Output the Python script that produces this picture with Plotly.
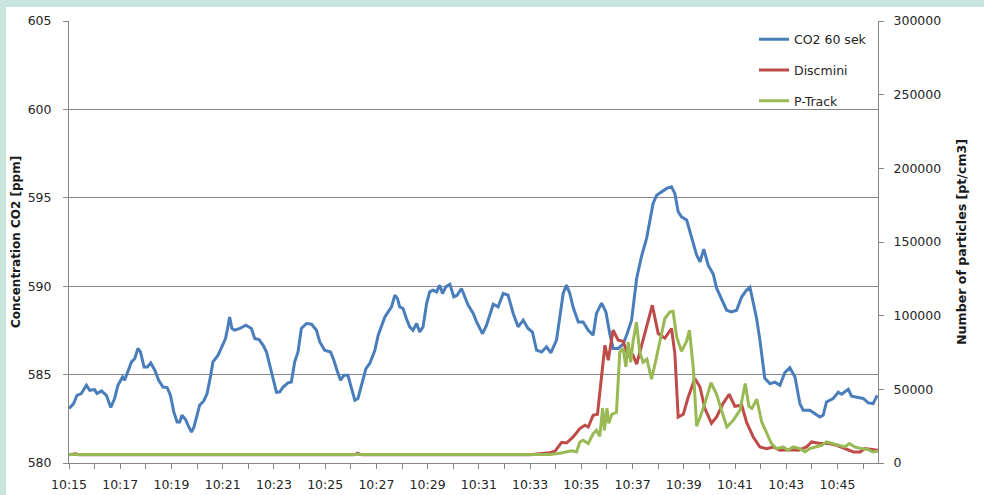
import pandas as pd
import plotly.graph_objects as go

# ---- data (minutes after 10:15:00) ----
co2_min = [0.00, 0.18, 0.31, 0.48, 0.68, 0.81, 1.00, 1.09, 1.27, 1.46, 1.63, 1.78, 1.91, 2.09, 2.17,
           2.30, 2.44, 2.57, 2.69, 2.79, 2.93, 3.06, 3.19, 3.35, 3.50, 3.67, 3.83, 3.96, 4.09, 4.22,
           4.32, 4.41, 4.55, 4.65, 4.78, 4.88, 5.00, 5.10, 5.26, 5.39, 5.52, 5.62, 5.82, 5.95, 6.11,
           6.19, 6.27, 6.36, 6.47, 6.67, 6.90, 7.12, 7.25, 7.42, 7.58, 7.71, 7.84, 7.97, 8.10, 8.23,
           8.36, 8.55, 8.68, 8.81, 8.94, 9.07, 9.27, 9.47, 9.66, 9.79, 9.98, 10.21, 10.34, 10.46, 10.60,
           10.73, 10.89, 11.03, 11.16, 11.28, 11.42, 11.59, 11.74, 11.94, 12.07, 12.20, 12.33, 12.46, 12.59, 12.72,
           12.82, 12.91, 13.04, 13.17, 13.30, 13.43, 13.57, 13.69, 13.82, 13.96, 14.08, 14.21, 14.35, 14.47, 14.58,
           14.71, 14.87, 15.02, 15.15, 15.32, 15.45, 15.58, 15.78, 15.91, 16.14, 16.30, 16.56, 16.75, 16.95, 17.14,
           17.34, 17.53, 17.73, 17.92, 18.09, 18.25, 18.45, 18.64, 18.81, 19.03, 19.16, 19.29, 19.42, 19.55, 19.68,
           19.88, 20.07, 20.27, 20.46, 20.59, 20.79, 20.96, 21.11, 21.24, 21.44, 21.63, 21.79, 21.96, 22.16, 22.35,
           22.55, 22.67, 22.80, 22.94, 23.13, 23.33, 23.52, 23.65, 23.78, 23.91, 24.11, 24.30, 24.50, 24.63, 24.78,
           24.95, 25.15, 25.28, 25.47, 25.67, 25.86, 26.06, 26.26, 26.45, 26.58, 26.71, 26.84, 26.97, 27.16, 27.36,
           27.56, 27.75, 27.95, 28.14, 28.34, 28.53, 28.66, 28.92, 29.12, 29.31, 29.44, 29.57, 29.83, 30.03, 30.16,
           30.42, 30.55, 30.81, 31.00, 31.20, 31.39, 31.55]
co2_ppm = [583.08, 583.36, 583.83, 583.93, 584.40, 584.11, 584.15, 583.93, 584.08, 583.83, 583.14, 583.65, 584.40, 584.87, 584.68,
           585.15, 585.72, 585.91, 586.48, 586.28, 585.43, 585.43, 585.66, 585.25, 584.68, 584.30, 584.27, 583.83, 582.89, 582.32,
           582.32, 582.70, 582.46, 582.13, 581.75, 582.04, 582.80, 583.27, 583.51, 583.93, 584.87, 585.72, 586.10, 586.57, 587.04,
           587.61, 588.26, 587.61, 587.51, 587.61, 587.79, 587.61, 587.04, 586.98, 586.66, 586.28, 585.53, 584.79, 584.00, 584.02,
           584.30, 584.53, 584.58, 585.72, 586.28, 587.61, 587.89, 587.85, 587.51, 586.85, 586.38, 586.28, 585.81, 585.25, 584.68,
           584.96, 584.96, 584.21, 583.55, 583.65, 584.40, 585.34, 585.63, 586.38, 587.23, 587.70, 588.26, 588.55, 588.83, 589.49,
           589.31, 588.83, 588.74, 588.17, 587.70, 587.51, 587.89, 587.41, 587.70, 589.02, 589.68, 589.78, 589.68, 590.06, 589.59,
           589.96, 590.11, 589.40, 589.49, 589.87, 589.40, 588.93, 588.46, 587.98, 587.32, 587.79, 588.98, 588.83, 589.59, 589.49,
           588.46, 587.70, 588.08, 587.61, 587.41, 586.38, 586.28, 586.57, 586.23, 586.95, 588.26, 589.59, 590.06, 589.59, 588.81,
           587.98, 587.98, 587.51, 587.23, 588.46, 589.04, 588.53, 587.32, 586.48, 586.48, 586.72, 587.32, 588.08, 590.45, 591.70,
           592.72, 593.74, 594.68, 595.15, 595.34, 595.53, 595.62, 595.25, 594.21, 593.92, 593.74, 592.79, 591.76, 591.38, 592.10,
           591.19, 590.68, 589.89, 589.32, 588.64, 588.55, 588.64, 589.40, 589.78, 589.94, 589.15, 588.19, 586.95, 584.79, 584.49,
           584.57, 584.40, 585.13, 585.39, 584.87, 583.36, 582.98, 582.98, 582.80, 582.60, 582.70, 583.45, 583.65, 584.00, 583.89,
           584.17, 583.78, 583.69, 583.65, 583.40, 583.36, 583.83]

disc_min = [0.00, 0.26, 0.38, 4.71, 4.91, 5.06, 6.94, 7.10, 7.25, 11.12, 11.27, 11.43, 17.99, 18.38, 18.77,
            18.97, 19.09, 19.23, 19.42, 19.68, 19.94, 20.14, 20.27, 20.46, 20.63, 20.79, 20.92, 21.05, 21.24, 21.44,
            21.63, 21.83, 22.02, 22.16, 22.35, 22.55, 22.77, 23.00, 23.26, 23.52, 23.65, 23.78, 23.98, 24.17, 24.43,
            24.63, 24.82, 25.08, 25.28, 25.53, 25.77, 25.99, 26.26, 26.45, 26.71, 26.97, 27.23, 27.49, 27.75, 28.14,
            28.47, 28.79, 28.99, 29.31, 29.64, 29.97, 30.29, 30.62, 30.88, 31.07, 31.27, 31.58]
disc_val = [5570, 6250, 5570, 5570, 6040, 5570, 5570, 6040, 5570, 5570, 6590, 5570, 5570, 6250, 6930,
            7950, 10870, 14060, 13580, 17660, 23360, 25610, 24450, 32400, 33080, 57530, 79940, 69750, 90130, 83340,
            82660, 72470, 73150, 67040, 79940, 94210, 107110, 87890, 84700, 91290, 74300, 31240, 33080, 44620, 57320,
            51620, 37150, 26960, 31240, 40340, 46660, 38510, 39190, 27640, 17660, 10870, 9780, 10870, 8630, 8970,
            8630, 10870, 14260, 13180, 13180, 12020, 9780, 7470, 7470, 9780, 9300, 8630]

ptrack_min = [0.00, 18.77, 19.16, 19.42, 19.62, 19.81, 19.94, 20.07, 20.27, 20.46, 20.59, 20.72, 20.83, 20.90, 21.00,
              21.07, 21.19, 21.37, 21.50, 21.63, 21.74, 21.83, 21.93, 22.02, 22.15, 22.28, 22.41, 22.56, 22.74, 22.89,
              23.07, 23.26, 23.46, 23.58, 23.72, 23.91, 24.11, 24.22, 24.37, 24.50, 24.65, 24.82, 25.06, 25.28, 25.47,
              25.68, 25.93, 26.19, 26.40, 26.54, 26.66, 26.85, 27.04, 27.23, 27.42, 27.62, 27.88, 28.07, 28.27, 28.53,
              28.73, 28.92, 29.12, 29.38, 29.57, 29.83, 30.09, 30.29, 30.46, 30.68, 30.94, 31.20, 31.39, 31.58]
ptrack_val = [5710, 5710, 6590, 7470, 8290, 7470, 14260, 15420, 13180, 19970, 22210, 18130, 37150, 22210, 37150,
              26960, 33080, 34440, 75190, 77700, 65200, 81980, 68400, 82660, 95560, 75190, 68400, 70430, 56850, 68400,
              84020, 98080, 102560, 103030, 85580, 75870, 82660, 90130, 64320, 24930, 31720, 40340, 54470, 46660, 35790,
              24450, 29000, 35790, 53930, 38510, 37150, 43270, 27850, 19970, 13180, 9780, 10870, 8630, 10870, 9780,
              7470, 9780, 10870, 12020, 14260, 13180, 12020, 10870, 13180, 10870, 9780, 9100, 7470, 8150]

series_names = ["CO2 60 sek", "Discmini", "P-Track"]
left_title = "Concentration CO2 [ppm]"
right_title = "Number of particles [pt/cm3]"

base = pd.Timestamp("2013-01-01 10:15:00")
def to_time(mins):
    return base + pd.to_timedelta(mins, unit="m")

FONT = "DejaVu Sans"
GRID = "#868686"
TXT = "#262626"
fig = go.Figure()
fig.add_trace(go.Scatter(x=to_time(co2_min), y=co2_ppm, name=series_names[0], mode="lines",
                         line=dict(color="#4A7EBB", width=3), legendgroup="a"))
fig.add_trace(go.Scatter(x=to_time(disc_min), y=disc_val, name=series_names[1], mode="lines",
                         line=dict(color="#BE4B48", width=3), yaxis="y2", legendgroup="b"))
fig.add_trace(go.Scatter(x=to_time(ptrack_min), y=ptrack_val, name=series_names[2], mode="lines",
                         line=dict(color="#98B954", width=3), yaxis="y2", legendgroup="c"))

W, H = 984, 495
ml, mr, mt, mb = 69, 106, 21, 32
pw, ph = W - ml - mr, H - mt - mb

fig.update_layout(
    width=W, height=H,
    margin=dict(l=ml, r=mr, t=mt, b=mb, autoexpand=False),
    paper_bgcolor="white", plot_bgcolor="white",
    font=dict(family=FONT, size=12.5, color=TXT),
    showlegend=True,
    legend=dict(x=(754 - ml) / pw, y=1 - (24.5 - mt) / ph, xanchor="left", yanchor="top",
                bgcolor="rgba(0,0,0,0)", traceorder="grouped", tracegroupgap=11.5,
                font=dict(family=FONT, size=12.5, color=TXT), itemwidth=30),
    xaxis=dict(type="date", range=[to_time(0), to_time(31.58)],
               dtick=120000, tick0=to_time(0), tickformat="%H:%M",
               showgrid=False, showline=True, linecolor=GRID, linewidth=1,
               ticks="outside", ticklen=5, tickcolor=GRID, zeroline=False,
               ticklabelstandoff=5, automargin=False,
               minor=dict(dtick=60000, ticks="outside", ticklen=5, tickcolor=GRID, showgrid=False),
               tickfont=dict(family=FONT, size=12.5, color=TXT)),
    yaxis=dict(range=[580, 605], dtick=5, showgrid=True, gridcolor=GRID, gridwidth=1,
               showline=True, linecolor=GRID, ticks="outside", ticklen=5, tickcolor=GRID,
               zeroline=False, ticklabelstandoff=9, automargin=False,
               tickfont=dict(family=FONT, size=12.5, color=TXT)),
    yaxis2=dict(range=[0, 300000], dtick=50000, overlaying="y", side="right", showgrid=False,
                showline=True, linecolor=GRID, ticks="outside", ticklen=5, tickcolor=GRID,
                tickformat="d", zeroline=False, ticklabelstandoff=7, automargin=False,
                tickfont=dict(family=FONT, size=12.5, color=TXT)),
    shapes=[
        dict(type="rect", xref="paper", yref="paper", x0=-ml / pw, x1=(6 - ml) / pw,
             y0=-mb / ph, y1=1 + mt / ph, fillcolor="#C8E4DC", line=dict(width=0), layer="below"),
        dict(type="rect", xref="paper", yref="paper", x0=-ml / pw, x1=1 + mr / pw,
             y0=1 + (mt - 7) / ph, y1=1 + mt / ph, fillcolor="#C8E4DC", line=dict(width=0), layer="below"),
    ],
    annotations=[
        dict(text="<b>" + left_title + "</b>", xref="paper", yref="paper", x=(16 - ml) / pw, y=0.5,
             textangle=-90, showarrow=False, xanchor="center", yanchor="middle",
             font=dict(family=FONT, size=12, color="#1a1a1a")),
        dict(text="<b>" + right_title + "</b>", xref="paper", yref="paper", x=(961 - ml) / pw, y=0.5,
             textangle=-90, showarrow=False, xanchor="center", yanchor="middle",
             font=dict(family=FONT, size=12.6, color="#1a1a1a")),
    ],
)

fig.write_html("out.html", config={"displayModeBar": False},
               post_script="document.body.style.margin='0px';")
